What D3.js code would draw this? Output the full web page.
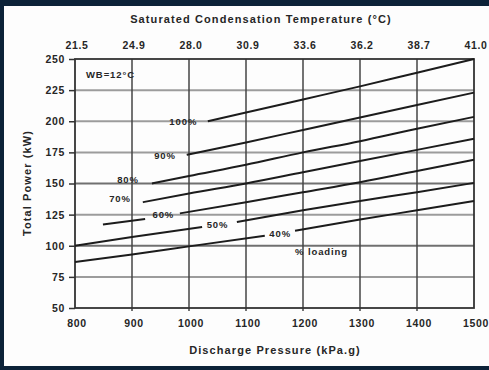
<!doctype html>
<html>
  <head>
    <meta charset="UTF-8">
    <title>Total Power vs Discharge Pressure</title>
    <style>
      body { margin: 0; background: #0c2238; }
      svg text { font-family: "Liberation Sans", Arial, sans-serif; fill: #262626; }
      .tick-label { font-size: 10.5px; font-weight: bold; letter-spacing: 0.7px; }
      .axis-title { font-size: 11px; font-weight: bold; letter-spacing: 1.1px; }
      .series-label { font-size: 9.5px; font-weight: bold; letter-spacing: 0.9px; }
    </style>
  </head>
  <body>
    <svg id="chart" width="489" height="370"></svg>
    <script src="https://d3js.org/d3.v7.min.js"></script>
    <script>
      // Chart data
      const pressureTicks = [800, 900, 1000, 1100, 1200, 1300, 1400, 1500];
      const tempLabels = ["21.5", "24.9", "28.0", "30.9", "33.6", "36.2", "38.7", "41.0"];
      const powerTicks = [50, 75, 100, 125, 150, 175, 200, 225, 250];

      // each loading: points before the label gap (may be empty) and after it
      const loadings = ["100%", "90%", "80%", "70%", "60%", "50%", "40%"];
      const preX = [[], [], [], [], [849, 923], [800, 900, 1023], [800, 900, 1000, 1133]];
      const preY = [[], [], [], [], [117, 121.5], [100, 107, 115], [87, 93, 99.5, 108]];
      const postX = [
        [1033, 1100, 1200, 1300, 1400, 1500],
        [996, 1100, 1200, 1300, 1400, 1500],
        [935, 1000, 1100, 1200, 1300, 1400, 1500],
        [919, 1000, 1100, 1200, 1300, 1400, 1500],
        [984, 1100, 1200, 1300, 1400, 1500],
        [1084, 1200, 1300, 1400, 1500],
        [1186, 1300, 1400, 1500]
      ];
      const postY = [
        [200, 207, 217.5, 228, 239, 250],
        [173, 183, 193, 203, 213, 223],
        [150, 156, 165, 175, 184, 194, 203.5],
        [135, 142, 150, 159, 168, 177, 186],
        [126, 135, 143, 151, 160, 169],
        [119, 128.5, 136, 143, 150.5],
        [112, 121, 128.5, 136]
      ];
      // label anchor (pressure, power) for each loading
      const labelX = [990, 958, 893, 879, 955, 1050, 1160];
      const labelY = [200, 172, 153, 138, 125, 117, 110];

      const svg = d3.select("#chart");
      // white page inside the navy frame
      svg.append("rect").attr("x", 4).attr("y", 6).attr("width", 485).attr("height", 360).attr("fill", "#fdfdfd");

      const plotLeft = 75, plotRight = 474, plotTop = 59, plotBottom = 308;
      const x = d3.scaleLinear().domain([800, 1500]).range([plotLeft, plotRight]);
      const y = d3.scaleLinear().domain([50, 250]).range([plotBottom, plotTop]);

      // horizontal grid
      svg.append("g").selectAll("line")
        .data(powerTicks.slice(1, -1))
        .enter().append("line")
          .attr("x1", plotLeft).attr("x2", plotRight)
          .attr("y1", d => y(d)).attr("y2", d => y(d))
          .attr("stroke", d => d === 150 || d === 100 ? "#707070" : "#9c9c9c")
          .attr("stroke-width", 2);

      // vertical grid
      svg.append("g").selectAll("line")
        .data(pressureTicks.slice(1, -1))
        .enter().append("line")
          .attr("x1", d => x(d)).attr("x2", d => x(d))
          .attr("y1", plotTop).attr("y2", plotBottom + 3)
          .attr("stroke", "#454545")
          .attr("stroke-width", 1.5);

      // plot frame
      svg.append("rect")
        .attr("x", plotLeft).attr("y", plotTop)
        .attr("width", plotRight - plotLeft).attr("height", plotBottom - plotTop)
        .attr("fill", "none").attr("stroke", "#333").attr("stroke-width", 1.8);

      // y axis
      const yAxis = svg.append("g")
        .attr("transform", `translate(${plotLeft},0)`)
        .call(d3.axisLeft(y).tickValues(powerTicks).tickSize(6).tickPadding(4));
      yAxis.select(".domain").remove();
      yAxis.selectAll(".tick line").attr("stroke", "#333").attr("stroke-width", 1.5);
      yAxis.selectAll(".tick text").attr("class", "tick-label");

      // bottom axis
      const xAxis = svg.append("g")
        .attr("transform", `translate(0,${plotBottom})`)
        .call(d3.axisBottom(x).tickValues(pressureTicks).tickFormat(d3.format("d"))
          .tickSize(0).tickPadding(12));
      xAxis.select(".domain").remove();
      xAxis.selectAll(".tick text").attr("class", "tick-label").attr("dx", 1.5);

      // top axis: saturated condensation temperature
      const xTop = svg.append("g")
        .attr("transform", `translate(0,${plotTop})`)
        .call(d3.axisTop(x).tickValues(pressureTicks).tickSize(0).tickPadding(10)
          .tickFormat((d, i) => tempLabels[i]));
      xTop.select(".domain").remove();
      xTop.selectAll(".tick text").attr("class", "tick-label").attr("dx", 1.5);

      // axis titles
      svg.append("text").attr("class", "axis-title")
        .attr("x", 261).attr("y", 23).attr("text-anchor", "middle")
        .text("Saturated Condensation Temperature (°C)");
      svg.append("text").attr("class", "axis-title")
        .attr("x", 275).attr("y", 354).attr("text-anchor", "middle")
        .text("Discharge Pressure (kPa.g)");
      svg.append("text").attr("class", "axis-title")
        .attr("transform", "translate(31,183) rotate(-90)")
        .attr("text-anchor", "middle")
        .text("Total Power (kW)");

      // loading curves
      const line = d3.line().x(d => x(d[0])).y(d => y(d[1])).curve(d3.curveMonotoneX);
      const curves = svg.append("g").attr("fill", "none").attr("stroke", "#1c1c1c").attr("stroke-width", 2);
      loadings.forEach((name, i) => {
        const pre = d3.zip(preX[i], preY[i]);
        const post = d3.zip(postX[i], postY[i]);
        if (pre.length) curves.append("path").attr("d", line(pre));
        curves.append("path").attr("d", line(post));
        svg.append("text").attr("class", "series-label")
          .attr("x", x(labelX[i])).attr("y", y(labelY[i]))
          .attr("text-anchor", "middle").attr("dy", "0.35em")
          .text(name);
      });

      svg.append("text").attr("class", "series-label")
        .attr("x", 295).attr("y", 252).attr("dy", "0.35em")
        .text("% loading");
      svg.append("text").attr("class", "series-label")
        .attr("x", 86).attr("y", 75).attr("dy", "0.35em")
        .text("WB=12°C");
    </script>
  </body>
</html>
